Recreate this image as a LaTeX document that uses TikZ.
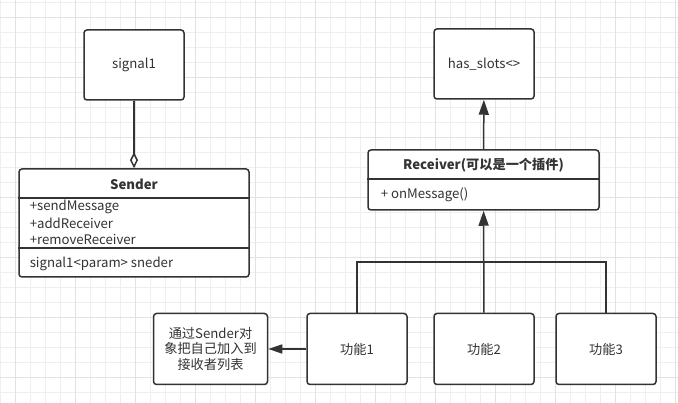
\documentclass[tikz,border=0pt]{standalone}
\usepackage{fontspec}
\setmainfont{Noto Sans CJK SC}
\usetikzlibrary{arrows.meta,calc}
\definecolor{linec}{HTML}{333333}
\definecolor{minorgrid}{HTML}{EFEFEF}
\definecolor{majorgrid}{HTML}{E2E2E2}

\begin{document}
\begin{tikzpicture}[x=1pt,y=-1pt,>=Triangle,line width=1.5pt,draw=linec,text=linec,font=\fontsize{13.2}{15.8}\selectfont,
    main box/.style={draw=linec,fill=white,rounded corners=3pt,line width=1.5pt,inner sep=0pt},
    row/.style={anchor=west,inner sep=0pt},
    sep line/.style={draw=linec,line width=1.5pt}]

            \useasboundingbox (0,0) rectangle (678,403);
            \fill[white] (0,0) rectangle (678,403);
            \foreach \gx in {0.7,15.7,...,678} \draw[minorgrid,line width=0.8pt] (\gx,0) -- (\gx,403);
            \foreach \gy in {2.3,17.3,...,403} \draw[minorgrid,line width=0.8pt] (0,\gy) -- (678,\gy);
            \foreach \gx in {15.7,75.7,...,678} \draw[majorgrid,line width=0.8pt] (\gx,0) -- (\gx,403);
            \foreach \gy in {17.3,77.3,...,403} \draw[majorgrid,line width=0.8pt] (0,\gy) -- (678,\gy);

            \node[main box, minimum width=100pt, minimum height=70pt] (sig) at (134,65) {signal1};
            \node[main box, minimum width=100pt, minimum height=70pt] (slots) at (484,64) {has\_slots<>};

            \node[main box, minimum width=230pt, minimum height=108pt] (sender) at (134,223) {};
            \draw[sep line] ([yshift=-30pt]sender.north west) -- ([yshift=-30pt]sender.north east);
            \draw[sep line] ([yshift=-80pt]sender.north west) -- ([yshift=-80pt]sender.north east);
            \node[font=\fontsize{13.2}{15.8}\selectfont\bfseries] (sendertitle) at (134,184) {Sender};
            \node[row] (m1) at (29,207) {+sendMessage};
            \node[row] (m2) at (29,223) {+addReceiver};
            \node[row] (m3) at (29,239) {+removeReceiver};
            \node[row] (a1) at (29,264) {signal1<param> sneder};

            \node[main box, minimum width=231pt, minimum height=60pt] (recv) at (483.5,180) {};
            \draw[sep line] ([yshift=-30pt]recv.north west) -- ([yshift=-30pt]recv.north east);
            \node[font=\fontsize{13.2}{15.8}\selectfont\bfseries] (recvtitle) at (483.5,165) {Receiver(可以是一个插件)};
            \node[row] (r1) at (380,195) {+ onMessage()};

            \node[main box, minimum width=114pt, minimum height=71pt, align=center] (note) at (210.5,349) {通过Sender对\\象把自己加入到\\接收者列表};
            \node[main box, minimum width=100pt, minimum height=71pt] (f1) at (357,349) {功能1};
            \node[main box, minimum width=100pt, minimum height=71pt] (f2) at (484,349) {功能2};
            \node[main box, minimum width=100pt, minimum height=71pt] (f3) at (606,349) {功能3};

            \coordinate (bus) at (484,262);

            \draw[-{Diamond[open,fill=white,length=16pt,width=8pt]}] (sig) to (sender);
            \draw[-{Triangle[length=15pt,width=10pt]}] (recv) to (slots);
            \draw[line width=1.3pt] (f1.north) |- (bus) -| (f3.north);
            \draw[-{Triangle[length=15pt,width=10pt]}] (f2) to (recv);
            \draw[-{Triangle[length=14pt,width=9pt]}] (f1) to (note);

        \end{tikzpicture}
\end{document}
